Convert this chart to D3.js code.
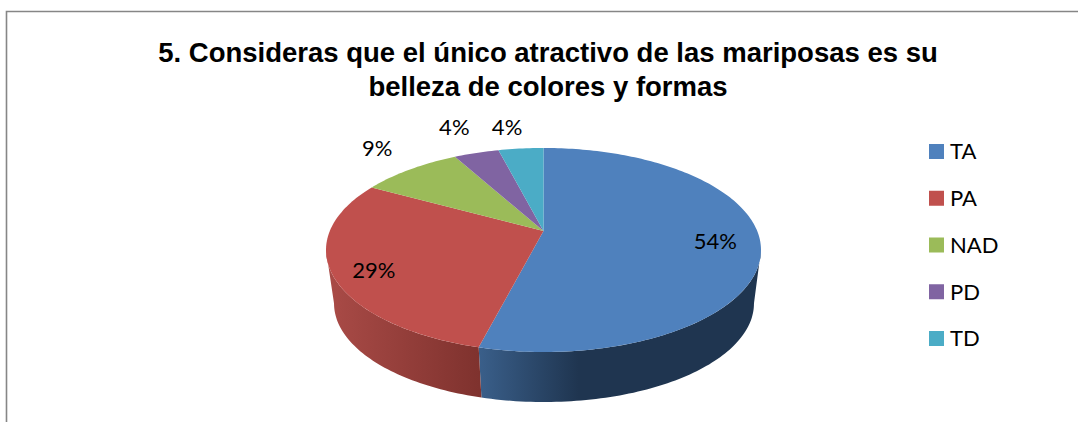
<!DOCTYPE html>
<html>
	<head>
		<meta charset="UTF-8" />
		<title>Mariposas</title>
		<style>
			html, body {
				margin: 0;
				padding: 0;
				overflow: hidden;
				background: #fff;
			}
			svg {
				display: block;
			}
			.title {
				font-family: "Liberation Sans", sans-serif;
				font-weight: bold;
				font-size: 27.5px;
				text-anchor: middle;
				fill: #000;
			}
			.label, .legend text {
				font-family: Lato, sans-serif;
				font-size: 22px;
				fill: #000;
			}
			.label {
				text-anchor: middle;
			}
		</style>
		<script src="https://d3js.org/d3.v7.min.js"></script>
	</head>
	<body>
		<svg></svg>
		<script>
			const categories = ['TA', 'PA', 'NAD', 'PD', 'TD'];
			const values = [54, 29, 9, 4, 4];
			const valueLabels = ['54%', '29%', '9%', '4%', '4%'];
			const colors = ['#4f81bd', '#c0504d', '#9bbb59', '#8064a2', '#4bacc6'];
			const titleLines = ['5. Consideras que el único atractivo de las mariposas es su', 'belleza de colores y formas'];

			const width = 1078;
			const height = 422;

			// excel's 3d pie has perspective, so the apex sits above the ellipse middle
			const persp = 0.186;
			const top3d = { cx: 543.5, cy: 231, sx: 213.7, sy: 98.5 };
			const bottom3d = { cx: 544, cy: 285.2, sx: 206.3, sy: 95.1 };

			// radius factor and nudge for each value label
			const labelRadius = [0.8, 0.8, 1.25, 1.41, 1.32];
			const labelNudge = [[-1, 0], [-3, 6], [-4, -8], [0, 0], [-8, 0]];

			function project(plane, angle, r = 1) {
				let u = r * Math.sin(angle);
				let v = -r * Math.cos(angle);
				let w = 1 - persp * v;
				return [plane.cx + plane.sx * u / w, plane.cy + plane.sy * v / w];
			}

			function arcPoints(plane, a0, a1) {
				let n = Math.max(2, Math.ceil((a1 - a0) / 0.02));
				return d3.range(n + 1).map(i => project(plane, a0 + (a1 - a0) * i / n));
			}

			let svg = d3.select('svg')
				.attr('width', width)
				.attr('height', height);

			let defs = svg.append('defs');
			let line = d3.line();

			// frame: only left and top show in the crop
			svg.append('path')
				.attr('d', `M6.5,${height}V11.5H${width}`)
				.attr('fill', 'none')
				.attr('stroke', '#868686')
				.attr('stroke-width', 1.6);

			svg.selectAll('.title')
				.data(titleLines)
				.enter().append('text')
				.attr('class', 'title')
				.attr('x', 548)
				.attr('y', (d, i) => 62 + i * 33.5)
				.text(d => d);

			let slices = d3.pie().sort(null).value(d => d)(values);

			// side wall, only the part of the rim that faces the viewer
			let edgeStart = Math.acos(-persp);
			let edgeEnd = 2 * Math.PI - edgeStart;
			let sideStops = [
				[['0%', '#3a5f8a'], ['55%', '#1f3550'], ['100%', '#1f3550']],
				[['0%', '#a84a46'], ['100%', '#7f322e']]
			];
			let sideRanges = [[479, 660], [333, 479]];

			slices.forEach((s, i) => {
				let a0 = Math.max(s.startAngle, edgeStart);
				let a1 = Math.min(s.endAngle, edgeEnd);
				if (a1 <= a0) return;
				let grad = defs.append('linearGradient')
					.attr('id', `side${i}`)
					.attr('gradientUnits', 'userSpaceOnUse')
					.attr('x1', i == 0 ? sideRanges[0][0] : sideRanges[1][1])
					.attr('x2', i == 0 ? sideRanges[0][1] : sideRanges[1][0])
					.attr('y1', 0)
					.attr('y2', 0);
				grad.selectAll('stop')
					.data(i == 0 ? sideStops[0] : [['0%', '#7f322e'], ['100%', '#a84a46']])
					.enter().append('stop')
					.attr('offset', d => d[0])
					.attr('stop-color', d => d[1]);
				let pts = arcPoints(top3d, a0, a1).concat(arcPoints(bottom3d, a0, a1).reverse());
				svg.append('path')
					.attr('d', line(pts) + 'Z')
					.attr('fill', `url(#side${i})`);
			});

			// top face
			svg.append('g')
				.selectAll('path')
				.data(slices)
				.enter().append('path')
				.attr('d', d => line([[top3d.cx, top3d.cy]].concat(arcPoints(top3d, d.startAngle, d.endAngle))) + 'Z')
				.attr('fill', (d, i) => colors[i]);

			svg.append('g')
				.selectAll('text')
				.data(slices)
				.enter().append('text')
				.attr('class', 'label')
				.attr('transform', (d, i) => {
					let p = project(top3d, (d.startAngle + d.endAngle) / 2, labelRadius[i]);
					return `translate(${p[0] + labelNudge[i][0]},${p[1] + labelNudge[i][1]})`;
				})
				.attr('dy', '0.36em')
				.text((d, i) => valueLabels[i]);

			let legendY = d3.scalePoint()
				.domain(categories)
				.range([151.5, 338.5]);

			let legend = svg.append('g')
				.attr('class', 'legend')
				.selectAll('g')
				.data(categories)
				.enter().append('g')
				.attr('transform', d => `translate(929,${legendY(d)})`);

			legend.append('rect')
				.attr('y', -7.5)
				.attr('width', 15)
				.attr('height', 15)
				.attr('fill', (d, i) => colors[i]);

			legend.append('text')
				.attr('x', 21)
				.attr('dy', '0.36em')
				.text(d => d);
		</script>
	</body>
</html>
